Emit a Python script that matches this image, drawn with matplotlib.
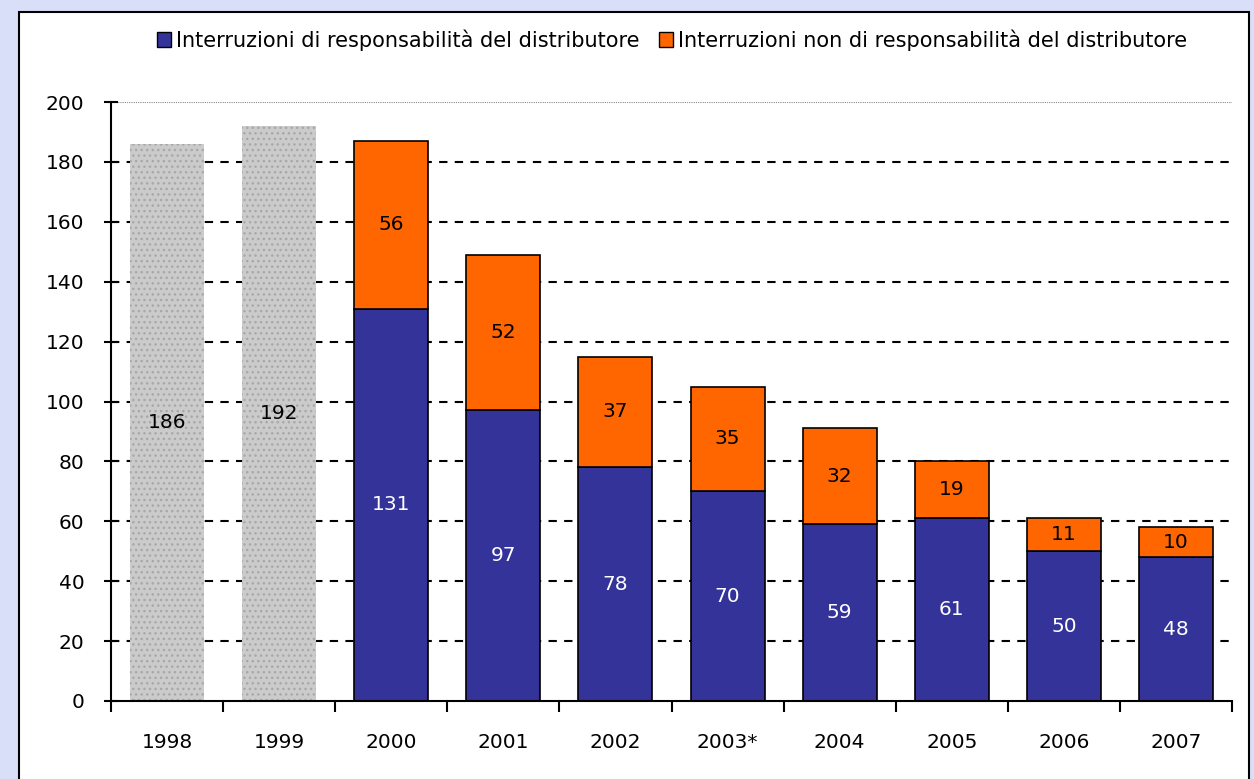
import numpy as np
import matplotlib
matplotlib.use("Agg")
import matplotlib.pyplot as plt
from matplotlib.patches import Rectangle, Patch

plt.rcParams['font.family'] = ['DejaVu Sans']

years = ['1998', '1999', '2000', '2001', '2002', '2003*', '2004', '2005', '2006', '2007']
totale_vecchio = [186, 192]          # 1998-1999, no split available
resp_distributore = [131, 97, 78, 70, 59, 61, 50, 48]
non_resp_distributore = [56, 52, 37, 35, 32, 19, 11, 10]

BLUE = '#333399'
ORANGE = '#FF6600'
GREY = '#CBCBCB'
FS = 14.5

fig = plt.figure(figsize=(12.54, 7.79), dpi=100)
fig.patch.set_facecolor('#D9DFF8')
# white panel with black frame
fig.patches.append(Rectangle((19/1254, -0.05), (1249-19)/1254, 1.05 - 12/779,
                             transform=fig.transFigure, facecolor='white',
                             edgecolor='black', linewidth=1.5, zorder=-5))

ax = fig.add_axes([111/1254, 1-701/779, (1232-111)/1254, (701-102)/779])
ax.set_facecolor('none')

x = np.arange(len(years))
w = 0.66

# gridlines
for v in range(20, 200, 20):
    ax.axhline(v, color='black', linewidth=1.5, dashes=(4, 3.5), zorder=1)
ax.axhline(200, color='#888888', linewidth=0.8, linestyle=(0, (1, 1)), zorder=1)

# old years (grey dotted)
xo = x[:2]
ax.bar(xo, totale_vecchio, w, color=GREY, edgecolor='#A8A8A8', hatch='...',
       linewidth=0, zorder=2)
for xi, v in zip(xo, totale_vecchio):
    ax.text(xi, v / 2, str(v), ha='center', va='center', fontsize=FS, color='black', zorder=4)

xn = x[2:]
ax.bar(xn, resp_distributore, w, color=BLUE, edgecolor='black', linewidth=1.2, zorder=2)
ax.bar(xn, non_resp_distributore, w, bottom=resp_distributore, color=ORANGE,
       edgecolor='black', linewidth=1.2, zorder=2)
for xi, a, b in zip(xn, resp_distributore, non_resp_distributore):
    ax.text(xi, a / 2, str(a), ha='center', va='center', fontsize=FS, color='white', zorder=4)
    ax.text(xi, a + b / 2, str(b), ha='center', va='center', fontsize=FS, color='black', zorder=4)

ax.set_xlim(-0.5, len(years) - 0.5)
ax.set_ylim(0, 200)
ax.set_yticks(range(0, 201, 20))
ax.tick_params(axis='y', direction='inout', length=10, width=1.5, labelsize=FS, pad=14)
ax.set_xticks(x)
ax.set_xticklabels(years)
ax.set_xticks(np.arange(-0.5, len(years)), minor=True)
ax.tick_params(axis='x', which='major', length=0, labelsize=FS, pad=23)
ax.tick_params(axis='x', which='minor', direction='out', length=8, width=1.5)
for s in ['top', 'right']:
    ax.spines[s].set_visible(False)
for s in ['left', 'bottom']:
    ax.spines[s].set_linewidth(1.5)

handles = [Patch(facecolor=BLUE, edgecolor='black', label='Interruzioni di responsabilità del distributore'),
           Patch(facecolor=ORANGE, edgecolor='black', label='Interruzioni non di responsabilità del distributore')]
fig.legend(handles=handles, loc='center', bbox_to_anchor=(672/1254, 1-40/779), ncol=2,
           frameon=False, prop={'size': 15},
           handlelength=0.7, handleheight=0.7,
           handletextpad=0.25, columnspacing=0.9)

fig.savefig('out.png', dpi=100, facecolor=fig.get_facecolor())
